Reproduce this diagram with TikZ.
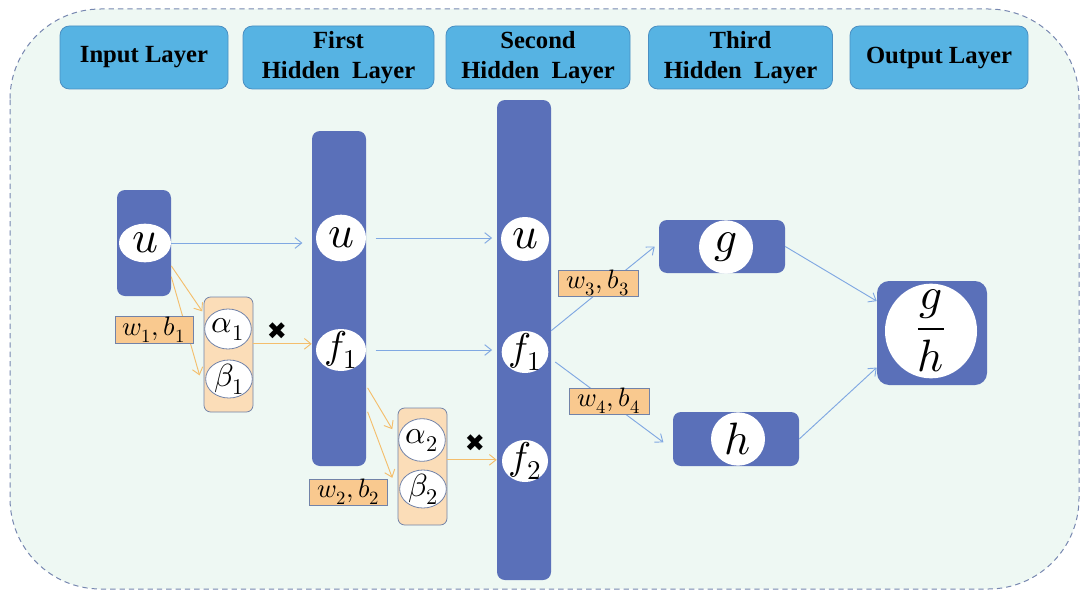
\documentclass[tikz,border=0pt]{standalone}
\usepackage{fontspec}
\usepackage{unicode-math}
\setmathfont{Latin Modern Math}
\usetikzlibrary{arrows.meta,shapes.geometric,calc}
\newfontfamily\hdrfont{Liberation Serif}
\newfontfamily\symfont{DejaVu Sans}
\definecolor{bgfill}{HTML}{EEF8F3}
\definecolor{bgline}{HTML}{7787B0}
\definecolor{hdrfill}{HTML}{56B3E3}
\definecolor{hdrline}{HTML}{4A8FC2}
\definecolor{darkblue}{HTML}{5A70B9}
\definecolor{peach}{HTML}{FBDDB8}
\definecolor{lblfill}{HTML}{F9C98F}
\definecolor{lblline}{HTML}{7283A8}
\definecolor{orarrow}{HTML}{F4BE6C}
\definecolor{blarrow}{HTML}{80A8E2}
\tikzset{
  hdr/.style={draw=hdrline, line width=0.6pt, fill=hdrfill, rounded corners=7pt,
    minimum height=47.25pt, align=center, font=\hdrfont\bfseries\fontsize{18.5}{22}\selectfont, inner sep=0pt},
  col/.style={fill=darkblue, draw=none, rounded corners=6pt, inner sep=0pt, minimum width=40.5pt},
  pbox/.style={fill=peach, draw=lblline, line width=0.6pt, rounded corners=5pt, inner sep=0pt, minimum width=36.75pt},
  wcirc/.style={ellipse, fill=white, draw=none, inner sep=0pt},
  pcirc/.style={ellipse, fill=white, draw=lblline, line width=0.6pt, inner sep=0pt, minimum width=35pt, minimum height=30pt},
  mbig/.style={font=\fontsize{34}{36}\selectfont, inner sep=0pt},
  mmid/.style={font=\fontsize{29}{31}\selectfont, inner sep=0pt},
  msml/.style={font=\fontsize{24}{26}\selectfont, inner sep=0pt},
  mfrac/.style={font=\fontsize{34}{36}\selectfont, inner sep=0pt},
  lbl/.style={fill=lblfill, draw=lblline, line width=0.6pt, inner sep=0pt, minimum width=59pt, minimum height=19.5pt, font=\fontsize{20}{21}\selectfont},
  blarr/.style={draw=blarrow, line width=0.7pt, -{Straight Barb[length=5pt,width=8pt]}},
  orarr/.style={draw=orarrow, line width=0.7pt, -{Straight Barb[length=5pt,width=8pt]}},
  xmark/.style={font=\symfont\fontsize{18}{18}\selectfont, text=black, inner sep=0pt}
}
\begin{document}
\begin{tikzpicture}[x=0.75pt,y=-0.75pt]
\useasboundingbox (0,0) rectangle (1081,592);
% background
\path[fill=bgfill, draw=bgline, dash pattern=on 4pt off 3pt, line width=0.75pt, rounded corners=68pt] (10,9) rectangle (1079,589);
% headers
\node[hdr, minimum width=126pt] (h0) at (144,57.5) {Input Layer};
\node[hdr, minimum width=143.25pt] (h1) at (338.5,57.5) {\raisebox{-2pt}{\parbox{140pt}{\centering First\\Hidden\ \ Layer}}};
\node[hdr, minimum width=138pt] (h2) at (538,57.5) {\raisebox{-2pt}{\parbox{135pt}{\centering Second\\Hidden\ \ Layer}}};
\node[hdr, minimum width=138pt] (h3) at (740.5,57.5) {\raisebox{-2pt}{\parbox{135pt}{\centering Third\\Hidden\ \ Layer}}};
\node[hdr, minimum width=133.5pt] (h4) at (939,57.5) {Output Layer};
% columns
\node[col, minimum height=79.5pt] (in) at (144,243) {};
\node[col, minimum height=251.25pt] (c1) at (339,298.5) {};
\node[col, minimum height=360pt] (c2) at (524,340) {};
\node[pbox, minimum height=86.25pt] (b1) at (228.5,354.5) {};
\node[pbox, minimum height=87.75pt] (b2) at (422.5,466.5) {};
\node[col, minimum width=94.5pt, minimum height=39.75pt] (gb) at (722,246.5) {};
\node[col, minimum width=94.5pt, minimum height=40.5pt] (hb) at (736,439) {};
\node[col, minimum width=82.5pt, minimum height=78pt, rounded corners=9pt] (ob) at (932,333) {};
% circles
\node[wcirc, minimum width=39pt, minimum height=29pt, label={[mbig]center:$u$}] (u0) at (145,243) {};
\node[wcirc, minimum width=37.5pt, minimum height=35pt, label={[mbig]center:$u$}] (u1) at (341,238) {};
\node[wcirc, minimum width=37.5pt, minimum height=31.5pt, label={[mmid]center:$f_1$}] (f1) at (341,350) {};
\node[wcirc, minimum width=36pt, minimum height=33pt, label={[mbig]center:$u$}] (u2) at (525,239) {};
\node[wcirc, minimum width=35pt, minimum height=31.5pt, label={[mmid]center:$f_1$}] (g1) at (525,352) {};
\node[wcirc, minimum width=34.5pt, minimum height=31.5pt, label={[mmid]center:$f_2$}] (g2) at (525,461) {};
\node[pcirc, label={[msml]center:$\alpha_1$}] (a1) at (228,329) {};
\node[pcirc, minimum height=28.5pt, label={[msml]center:$\beta_1$}] (be1) at (229,379) {};
\node[pcirc, minimum height=32pt, label={[msml]center:$\alpha_2$}] (a2) at (422,440) {};
\node[pcirc, minimum height=28.5pt, label={[msml]center:$\beta_2$}] (be2) at (423,489) {};
\node[wcirc, minimum width=40.5pt, minimum height=40pt, label={[mbig]center:$g$}] (gc) at (726,247) {};
\node[wcirc, minimum width=40.5pt, minimum height=40pt, label={[mbig]center:$h$}] (hc) at (738,439) {};
\node[wcirc, minimum width=69pt, minimum height=71pt, label={[mfrac]center:$\displaystyle\frac{g}{h}$}] (oc) at (931,331) {};
% blue arrows
\draw[blarr] (in.east |- u0.center) -- ([xshift=-7pt]c1.west |- u0.center);
\draw[blarr] ([xshift=7pt]c1.east |- u1.center) -- ([xshift=-3.5pt]c2.west |- u1.center);
\draw[blarr] ([xshift=7pt]c1.east |- f1.center) -- ([xshift=-3.5pt]c2.west |- f1.center);
\draw[blarr] ([yshift=16pt]c2.east |- g1.center) -- ([xshift=-3pt]gb.west);
\draw[blarr] ([xshift=3pt,yshift=-7.5pt]c2.east |- g1.center) -- ([xshift=-7pt,yshift=-2.5pt]hb.west);
\draw[blarr] (gb.east) -- (ob.150);
\draw[blarr] (hb.east) -- (ob.-148);
% orange arrows
\draw[orarr] (in.-40) -- ([xshift=-1pt]b1.120);
\draw[orarr] (in.-51) -- ([xshift=-3pt]b1.-140);
\draw[orarr] ([yshift=8pt]b1.east) -- ([yshift=8pt]b1.east -| c1.west);
\draw[orarr] ([xshift=1pt,yshift=-67pt]c1.east) -- ([xshift=-4pt,yshift=28pt]b2.west);
\draw[orarr] ([xshift=1pt,yshift=-85pt]c1.east) -- ([xshift=-4pt,yshift=-8.5pt]b2.west);
\draw[orarr] ([yshift=5pt]b2.east) -- ([yshift=5pt]b2.east -| c2.west);
% labels
\node[lbl, minimum width=58.5pt, minimum height=20.25pt] (l1) at (154,329.5) {$w_1,b_1$};
\node[lbl] (l2) at (348.5,492) {$w_2,b_2$};
\node[lbl, minimum width=60pt] (l3) at (598,283) {$w_3,b_3$};
\node[lbl, minimum width=60pt] (l4) at (609,401) {$w_4,b_4$};
% multiplication marks
\node[xmark] (x1) at (277,331) {✖};
\node[xmark] (x2) at (475,443) {✖};
\end{tikzpicture}
\end{document}
